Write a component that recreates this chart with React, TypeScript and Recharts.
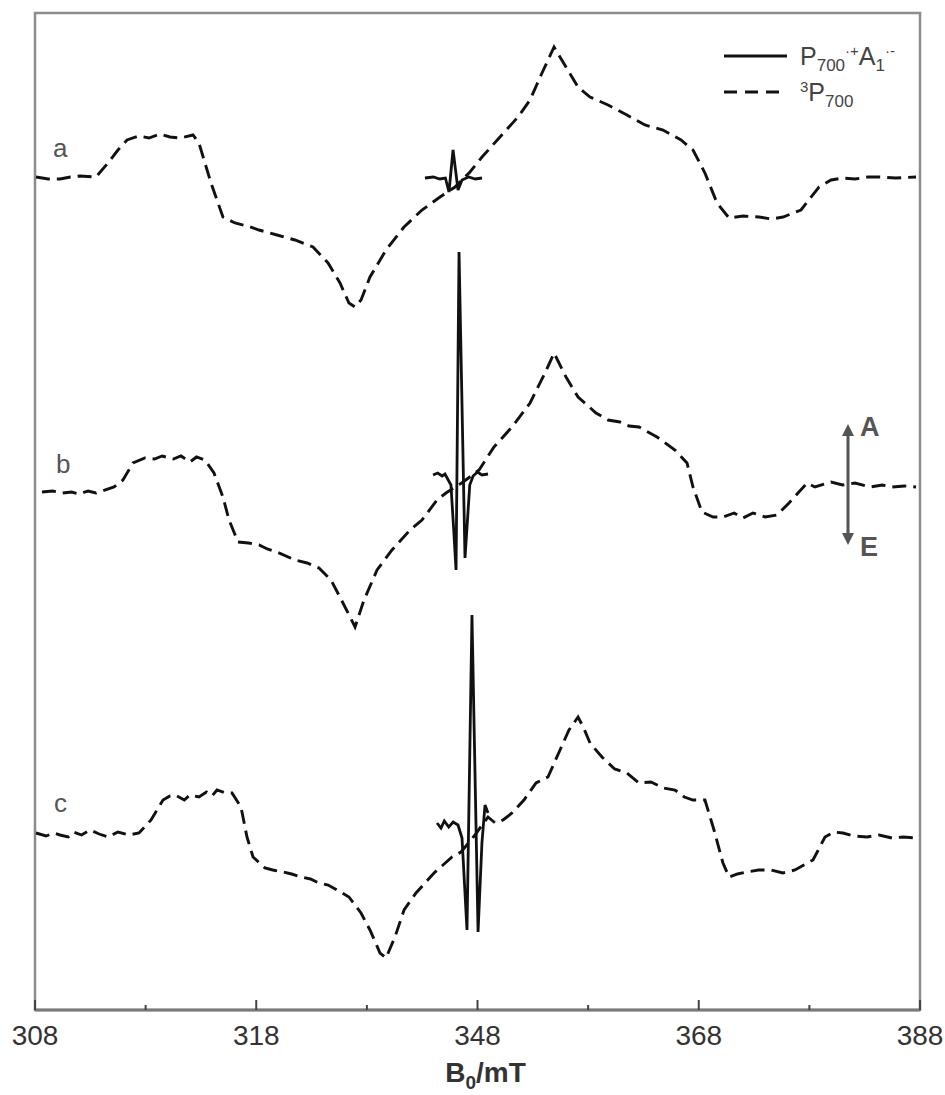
import React from 'react';
import { LineChart, Line, XAxis, YAxis, ReferenceArea, Legend, Customized } from 'recharts';

// field axis (mT) — the printed labels are kept as they appear in the figure
const fieldTicks = [308, 318, 328, 338, 348, 358, 368, 378, 388];
const majorTicks = [308, 328, 348, 368, 388];
const majorLabels = ['308', '318', '348', '368', '388'];

// [field mT, signal a.u.] — spectra a, b, c
const tripletA: [number, number][] = [
  [308.09, 1], [309.2, -1], [310.26, -1], [311.2, 1], [312.07, 2], [313.51, 1], [314.6, 15], [315.5, 28],
  [316.32, 38], [317.4, 42], [318.3, 40], [319.3, 44], [320.2, 41], [321.11, 40], [322.28, 43], [322.82, 35],
  [323.91, -5], [324.99, -39], [326.08, -45], [327.2, -48], [328.25, -52], [329.88, -57], [331.5, -62],
  [333.13, -69], [334.49, -85], [335.57, -105], [336.38, -125], [336.93, -129], [337.47, -122], [338.28, -99],
  [339.73, -72], [341.36, -49], [342.98, -32], [344.61, -19], [345.97, -9], [347.32, 6], [348.41, 21],
  [350.03, 41], [351.66, 61], [352.75, 78], [353.83, 105], [354.92, 131], [356.0, 111], [357.09, 91],
  [358.17, 81], [359.8, 73], [361.51, 63], [363.14, 53], [364.77, 48], [366.4, 38], [367.48, 28], [368.56, 5],
  [369.65, -25], [370.74, -40], [372.0, -38], [373.45, -39], [374.6, -41], [375.62, -39], [377.24, -32],
  [378.87, -9], [379.96, -2], [381.0, 0], [382.12, -1], [383.3, 1], [384.38, 1], [385.8, 0], [387.64, 1],
];
const radicalA: [number, number][] = [
  [343.25, 0], [344.0, 1], [344.6, -1], [345.1, 0], [345.42, -14], [345.79, 28], [346.24, -12], [346.6, -2],
  [347.2, 1], [347.8, -1], [348.41, 0],
];

const tripletB: [number, number][] = [
  [308.63, -2], [309.6, -1], [310.5, -3], [311.3, -2], [312.0, -4], [312.8, -1], [313.51, -3], [315.14, 3],
  [315.95, 10], [316.86, 27], [317.94, 32], [318.8, 31], [319.5, 34], [320.5, 31], [321.2, 34], [322.0, 28],
  [322.6, 33], [323.37, 30], [324.18, 17], [324.99, -7], [325.54, -30], [326.35, -52], [327.3, -53],
  [328.25, -55], [329.0, -59], [329.88, -62], [331.5, -70], [332.6, -73], [333.67, -78], [334.76, -90],
  [335.84, -113], [336.93, -137], [337.74, -110], [338.92, -80], [340.27, -60], [341.9, -40], [342.98, -30],
  [344.34, -10], [345.15, -3], [346.7, 8], [348.14, 20], [349.49, 43], [351.12, 63], [352.75, 87],
  [354.1, 117], [354.92, 137], [356.0, 113], [357.09, 93], [358.71, 77], [359.8, 70], [360.88, 68],
  [361.7, 64], [362.6, 63], [364.23, 53], [365.85, 40], [366.94, 27], [367.48, 3], [368.29, -22],
  [369.3, -27], [370.19, -27], [371.2, -23], [372.0, -28], [372.9, -23], [374.0, -27], [375.07, -25],
  [376.16, -13], [377.79, 7], [378.5, 3], [379.96, 8], [381.0, 5], [382.12, 7], [383.5, 3], [384.6, 5],
  [385.47, 3], [386.6, 4], [387.64, 3],
];
const radicalB: [number, number][] = [
  [343.98, 15], [344.4, 17], [344.8, 14], [345.06, 16], [345.6, 5], [345.85, -40], [346.06, -80],
  [346.33, 238], [346.87, -68], [347.3, 5], [347.6, 14], [348.0, 18], [348.4, 15], [348.95, 16],
];

const tripletC: [number, number][] = [
  [308.09, 0], [309.0, -3], [309.7, 0], [310.26, -2], [311.0, -4], [311.5, 1], [312.2, -2], [312.97, 3],
  [313.8, -1], [314.6, -4], [315.5, 1], [316.5, -2], [317.4, 0], [318.49, 13], [319.57, 33], [320.2, 37],
  [320.66, 38], [321.5, 33], [322.0, 38], [322.82, 36], [323.5, 41], [324.0, 37], [324.45, 43], [325.2, 40],
  [325.81, 40], [326.62, 26], [327.16, -4], [327.71, -24], [328.79, -35], [329.5, -37], [330.42, -39],
  [331.2, -41], [332.05, -44], [332.9, -46], [333.67, -50], [334.5, -52], [335.3, -57], [336.38, -64],
  [337.47, -80], [338.28, -97], [339.19, -120], [339.73, -125], [340.54, -104], [341.36, -77], [342.44, -60],
  [344.07, -40], [345.7, -24], [346.51, -19], [347.7, -3], [348.95, 16], [349.6, 10], [350.31, 13],
  [351.12, 20], [352.2, 33], [353.29, 50], [354.37, 56], [355.46, 83], [356.27, 103], [357.09, 116],
  [357.6, 105], [358.17, 90], [359.25, 76], [360.4, 64], [361.51, 60], [362.6, 50], [363.68, 51],
  [364.8, 45], [365.85, 43], [366.7, 36], [367.48, 33], [368.56, 33], [369.38, 3], [370.19, -30],
  [370.74, -44], [371.5, -41], [372.36, -39], [373.4, -37], [374.53, -37], [375.6, -40], [376.7, -37],
  [377.5, -32], [378.33, -27], [379.41, -4], [380.2, 1], [381.04, 0], [382.0, -3], [383.21, -4],
  [384.3, -2], [385.47, -5], [386.5, -4], [387.64, -5],
];
const radicalC: [number, number][] = [
  [344.34, 10], [344.7, 5], [345.0, 12], [345.4, 6], [345.8, 11], [346.24, 8], [346.6, -5], [347.05, -97],
  [347.5, 218], [348.05, -99], [348.4, -10], [348.68, 28], [348.95, 20],
];

// vertical stacking of the three spectra
const offsets = { a: 832, b: 520, c: 177 };
const Y_MAX = 997;

const toRows = (pts: [number, number][], off: number) => pts.map(([x, s]) => ({ x, y: s + off }));

const FONT = '"Liberation Sans", Arial, sans-serif';
const INK = '#111';

const FieldTick = (props: any) => {
  const { x, y, payload } = props;
  const i = majorTicks.indexOf(payload.value);
  const major = i >= 0;
  return (
    <g>
      <line x1={x} x2={x} y1={y} y2={y - (major ? 10 : 5)} stroke="#444" strokeWidth={2} />
      {major && (
        <text x={x} y={y + 35} textAnchor="middle" fontSize={28} fill="#333" fontFamily={FONT}>
          {majorLabels[i]}
        </text>
      )}
    </g>
  );
};

const AxisTitle = (props: any) => {
  const vb = props.viewBox || { x: 35, y: 1010, width: 885 };
  return (
    <text x={vb.x + vb.width / 2 + 8} y={vb.y + 72} textAnchor="middle" fontSize={28} fontWeight="bold" fill="#333" fontFamily={FONT}>
      B<tspan fontSize={19} dy={7}>0</tspan><tspan dy={-7}>/mT</tspan>
    </text>
  );
};

const LegendBox = () => {
  const sub = { fontSize: 17, verticalAlign: 'sub' as const, lineHeight: 0 };
  const sup = { fontSize: 15, verticalAlign: 'super' as const, lineHeight: 0 };
  const row = { display: 'flex', alignItems: 'center', height: 36 };
  return (
    <div style={{ fontFamily: FONT, color: '#444', fontSize: 25, lineHeight: '36px' }}>
      <div style={row}>
        <svg width={66} height={10}><line x1={0} x2={63} y1={5} y2={5} stroke={INK} strokeWidth={2.8} /></svg>
        <span style={{ marginLeft: 10 }}>
          P<span style={sub}>700</span><span style={sup}>·+</span>A<span style={sub}>1</span><span style={sup}>·-</span>
        </span>
      </div>
      <div style={row}>
        <svg width={66} height={10}><line x1={0} x2={60} y1={5} y2={5} stroke={INK} strokeWidth={2.8} strokeDasharray="13 8" /></svg>
        <span style={{ marginLeft: 10 }}>
          <span style={sup}>3</span>P<span style={sub}>700</span>
        </span>
      </div>
    </div>
  );
};

const Annotations = () => (
  <g fontFamily={FONT}>
    <text x={53} y={157} fontSize={26} fill="#555">a</text>
    <text x={56} y={473} fontSize={26} fill="#555">b</text>
    <text x={54} y={812} fontSize={26} fill="#555">c</text>
    <line x1={848} x2={848} y1={432} y2={536} stroke="#555" strokeWidth={3} />
    <polygon points="848,424 842,436 854,436" fill="#555" />
    <polygon points="848,545 842,533 854,533" fill="#555" />
    <text x={860} y={436} fontSize={27} fontWeight="bold" fill="#555">A</text>
    <text x={860} y={556} fontSize={27} fontWeight="bold" fill="#555">E</text>
  </g>
);

const series = [
  { key: 'ta', data: toRows(tripletA, offsets.a), dashed: true },
  { key: 'tb', data: toRows(tripletB, offsets.b), dashed: true },
  { key: 'tc', data: toRows(tripletC, offsets.c), dashed: true },
  { key: 'ra', data: toRows(radicalA, offsets.a), dashed: false },
  { key: 'rb', data: toRows(radicalB, offsets.b), dashed: false },
  { key: 'rc', data: toRows(radicalC, offsets.c), dashed: false },
];

export default function App() {
  return (
    <div style={{ position: 'absolute', left: 0, top: 0, width: 945, height: 1095, background: '#fff' }}>
      <LineChart width={945} height={1095} margin={{ top: 13, right: 25, bottom: 0, left: 35 }}>
        <XAxis
          type="number"
          dataKey="x"
          domain={[308, 388]}
          ticks={fieldTicks}
          interval={0}
          allowDataOverflow
          height={85}
          tickSize={0}
          tickMargin={0}
          tickLine={false}
          tick={<FieldTick />}
          axisLine={{ stroke: '#7a7a7a', strokeWidth: 3 }}
          label={{ content: <AxisTitle /> }}
        />
        <YAxis type="number" dataKey="y" domain={[0, Y_MAX]} hide allowDataOverflow />
        <ReferenceArea x1={308} x2={388} y1={0} y2={Y_MAX} fill="none" stroke="#8c8c8c" strokeWidth={2.5} ifOverflow="visible" />
        {series.map((s) => (
          <Line
            key={s.key}
            data={s.data}
            dataKey="y"
            type="linear"
            stroke={INK}
            strokeWidth={s.dashed ? 2.9 : 2.8}
            strokeDasharray={s.dashed ? '14 7' : undefined}
            dot={false}
            activeDot={false}
            legendType="none"
            isAnimationActive={false}
          />
        ))}
        <Legend
          layout="vertical"
          align="center"
          verticalAlign="middle"
          content={<LegendBox />}
          wrapperStyle={{ left: 724, top: 38, width: 215 }}
        />
        <Customized component={<Annotations />} />
      </LineChart>
    </div>
  );
}
